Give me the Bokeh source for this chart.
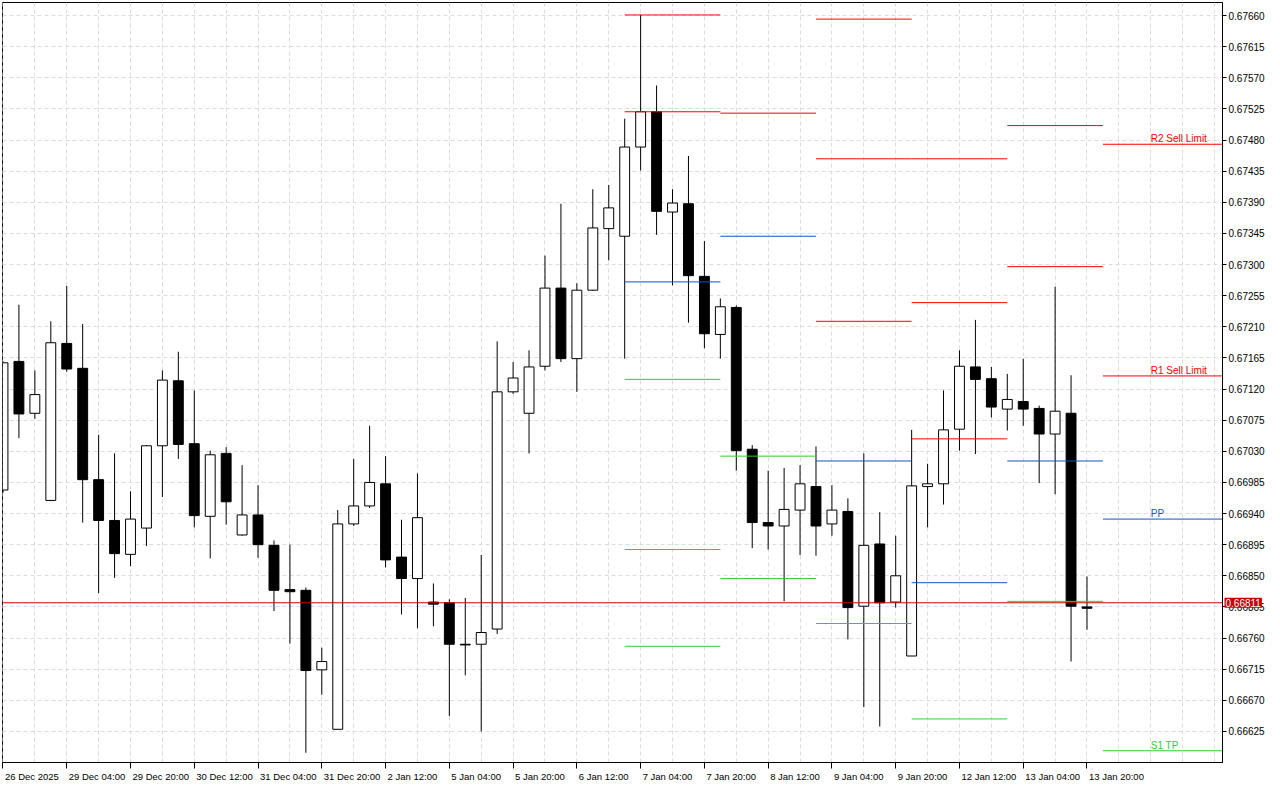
from bokeh.plotting import figure
from bokeh.models import (Range1d, FixedTicker, PrintfTickFormatter, Span, Label,
                          LinearAxis, CustomJSTickFormatter)
from bokeh.embed import file_html
from bokeh.resources import INLINE

# ---------------- data (H4 candles, index 0 = 26 Dec 2025 ... index 68 = 13 Jan 20:00)
opens = [0.66974, 0.67160, 0.67085, 0.66959, 0.67186, 0.67150, 0.66989, 0.66930, 0.66881, 0.66919,
         0.67038, 0.67132, 0.67041, 0.66936, 0.67027, 0.66909, 0.66938, 0.66894, 0.66830, 0.66829,
         0.66714, 0.66628, 0.66925, 0.66951, 0.66983, 0.66877, 0.66846, 0.66812, 0.66811, 0.66751,
         0.66751, 0.66773, 0.67116, 0.67085, 0.67153, 0.67266, 0.67164, 0.67263, 0.67352, 0.67341,
         0.67470, 0.67521, 0.67376, 0.67388, 0.67283, 0.67199, 0.67238, 0.67033, 0.66927, 0.66922,
         0.66945, 0.66979, 0.66925, 0.66943, 0.66806, 0.66896, 0.66812, 0.66734, 0.66979, 0.66983,
         0.67062, 0.67152, 0.67135, 0.67091, 0.67102, 0.67092, 0.67055, 0.67085, 0.66805]
highs = [0.67160, 0.67242, 0.67147, 0.67218, 0.67269, 0.67214, 0.67054, 0.67027, 0.66972, 0.67039,
         0.67147, 0.67174, 0.67118, 0.67031, 0.67036, 0.67010, 0.66981, 0.66901, 0.66895, 0.66833,
         0.66746, 0.66945, 0.67019, 0.67067, 0.67023, 0.66931, 0.66998, 0.66839, 0.66816, 0.66818,
         0.66880, 0.67189, 0.67159, 0.67176, 0.67313, 0.67388, 0.67273, 0.67409, 0.67415, 0.67511,
         0.67661, 0.67559, 0.67409, 0.67457, 0.67334, 0.67251, 0.67241, 0.67039, 0.67002, 0.67006,
         0.67010, 0.67037, 0.66981, 0.66962, 0.67027, 0.66942, 0.66908, 0.67061, 0.67012, 0.67118,
         0.67176, 0.67220, 0.67152, 0.67142, 0.67164, 0.67096, 0.67268, 0.67140, 0.66849]
lows = [0.66970, 0.67049, 0.67077, 0.66958, 0.67145, 0.66927, 0.66825, 0.66847, 0.66864, 0.66893,
        0.66964, 0.67019, 0.66920, 0.66875, 0.66924, 0.66908, 0.66876, 0.66799, 0.66752, 0.66594,
        0.66678, 0.66628, 0.66922, 0.66948, 0.66862, 0.66794, 0.66774, 0.66777, 0.66647, 0.66706,
        0.66625, 0.66766, 0.67113, 0.67027, 0.67147, 0.67159, 0.67116, 0.67262, 0.67306, 0.67164,
        0.67436, 0.67343, 0.67270, 0.67216, 0.67179, 0.67164, 0.67002, 0.66890, 0.66888, 0.66813,
        0.66880, 0.66879, 0.66908, 0.66758, 0.66660, 0.66632, 0.66804, 0.66734, 0.66920, 0.66953,
        0.67031, 0.67026, 0.67079, 0.67060, 0.67067, 0.66984, 0.66968, 0.66726, 0.66772]
closes = [0.67158, 0.67084, 0.67112, 0.67187, 0.67149, 0.66989, 0.66930, 0.66882, 0.66932, 0.67038,
          0.67133, 0.67040, 0.66937, 0.67025, 0.66957, 0.66938, 0.66895, 0.66829, 0.66827, 0.66713,
          0.66726, 0.66925, 0.66951, 0.66985, 0.66873, 0.66846, 0.66934, 0.66809, 0.66751, 0.66750,
          0.66768, 0.67116, 0.67136, 0.67152, 0.67266, 0.67164, 0.67263, 0.67353, 0.67382, 0.67470,
          0.67521, 0.67377, 0.67389, 0.67284, 0.67200, 0.67239, 0.67031, 0.66927, 0.66922, 0.66946,
          0.66983, 0.66922, 0.66945, 0.66804, 0.66894, 0.66811, 0.66850, 0.66980, 0.66983, 0.67061,
          0.67153, 0.67134, 0.67094, 0.67105, 0.67091, 0.67055, 0.67088, 0.66806, 0.66803]

time_tick_index = [0, 4, 8, 12, 16, 20, 24, 28, 32, 36, 40, 44, 48, 52, 56, 60, 64, 68]
time_tick_labels = ["26 Dec 2025", "29 Dec 04:00", "29 Dec 20:00", "30 Dec 12:00", "31 Dec 04:00",
                    "31 Dec 20:00", "2 Jan 12:00", "5 Jan 04:00", "5 Jan 20:00", "6 Jan 12:00",
                    "7 Jan 04:00", "7 Jan 20:00", "8 Jan 12:00", "9 Jan 04:00", "9 Jan 20:00",
                    "12 Jan 12:00", "13 Jan 04:00", "13 Jan 20:00"]

price_ticks = [0.66625, 0.66670, 0.66715, 0.66760, 0.66805, 0.66850, 0.66895, 0.66940, 0.66985,
               0.67030, 0.67075, 0.67120, 0.67165, 0.67210, 0.67255, 0.67300, 0.67345, 0.67390,
               0.67435, 0.67480, 0.67525, 0.67570, 0.67615, 0.67660]

# daily pivot levels (start / end candle index of each day)
pivot_days = ["7 Jan", "8 Jan", "9 Jan", "12 Jan", "13 Jan", "14 Jan"]
pivot_start = [39, 45, 51, 57, 63, 69]
pivot_end = [45, 51, 57, 63, 69, 78]
pivot_R = [[0.67661, 0.67521], [0.67519], [0.67655, 0.67453, 0.67218],
           [0.67453, 0.67245, 0.67048], [0.67501, 0.67297], [0.67474, 0.67139]]
pivot_PP = [0.67275, 0.67341, 0.67016, 0.66840, 0.67016, 0.66932]
pivot_S = [[0.67134, 0.66888, 0.66748], [0.67023, 0.66846], [0.66781], [0.66643],
           [0.66813], [0.66597]]

level_texts = ["R2 Sell Limit", "R1 Sell Limit", "PP", "S1 TP"]
level_prices = [0.67474, 0.67139, 0.66932, 0.66597]
level_kinds = ["R", "R", "PP", "S"]
level_text_index = 72

current_price = 0.66811

# ---------------- styling
RED = "#ff0000"
BLUE = "#1450d2"
GREEN = "#32cd32"
kind_color = {"R": RED, "PP": BLUE, "S": GREEN}
FONT = "Liberation Sans"
DATE_FS = 9.5

x_start, x_end = -0.03, 76.5
FRAME_W, FRAME_H = 1220, 760
p = figure(frame_width=FRAME_W, frame_height=FRAME_H,
           x_range=Range1d(x_start, x_end), y_range=Range1d(0.66580, 0.67679),
           y_axis_location="right", toolbar_location=None, output_backend="svg",
           min_border_left=2, min_border_top=2, min_border_right=0, min_border_bottom=0,
           background_fill_color="white", border_fill_color="white")
p.outline_line_color = "black"
p.outline_line_width = 1

# grid
p.xgrid.ticker = FixedTicker(ticks=list(range(0, 78, 2)))
for g in (p.xgrid, p.ygrid):
    g.grid_line_color = "#dcdcdc"
    g.grid_line_dash = "4 3"
    g.grid_line_width = 1

# right price axis
ya = p.yaxis[0]
ya.ticker = FixedTicker(ticks=price_ticks)
ya.formatter = PrintfTickFormatter(format="%.5f")
ya.major_tick_out = 4
ya.major_tick_in = 0
ya.minor_tick_out = 0
ya.minor_tick_in = 0
ya.major_label_standoff = 2
ya.major_label_text_font = FONT
ya.major_label_text_font_size = "10px"
ya.major_label_text_color = "black"
ya.axis_line_color = "black"
ya.major_tick_line_color = "black"

# bottom time axis: tick marks only
xa = p.xaxis[0]
xa.ticker = FixedTicker(ticks=time_tick_index)
xa.major_label_overrides = {i: "" for i in time_tick_index}
xa.major_label_text_font_size = "1px"
xa.major_tick_out = 6
xa.major_tick_in = 0
xa.minor_tick_out = 0
xa.minor_tick_in = 0
xa.axis_line_color = "black"
xa.major_tick_line_color = "black"
xa.major_label_standoff = 0

# second bottom axis carrying the date labels, each label placed so that it
# starts just right of its tick (MetaTrader style, left aligned)
CHAR_W = {" ": 0.278, ":": 0.278, "D": 0.722, "e": 0.556, "c": 0.5, "J": 0.5,
          "a": 0.556, "n": 0.556}
ppx = FRAME_W / (x_end - x_start)


def text_width(s, size):
    return sum(CHAR_W.get(ch, 0.556) for ch in s) * size


label_centers = [round(t + (text_width(s, DATE_FS) / 2 + 2) / ppx, 4)
                 for t, s in zip(time_tick_index, time_tick_labels)]
xb = LinearAxis(ticker=FixedTicker(ticks=label_centers),
                formatter=CustomJSTickFormatter(args=dict(labels=time_tick_labels),
                                                code="return labels[index];"))
xb.axis_line_color = None
xb.major_tick_line_color = None
xb.minor_tick_line_color = None
xb.major_tick_out = 0
xb.major_tick_in = 0
xb.minor_tick_out = 0
xb.minor_tick_in = 0
xb.major_label_standoff = 2
xb.major_label_text_font = FONT
xb.major_label_text_font_size = "%spx" % DATE_FS
xb.major_label_text_color = "black"
p.add_layout(xb, "below")

# candles
idx = list(range(len(opens)))
p.segment(x0=idx, y0=highs, x1=idx, y1=lows, line_color="black", line_width=1)
bull = [i for i in idx if closes[i] >= opens[i]]
bear = [i for i in idx if closes[i] < opens[i]]
p.vbar(x=bull, width=0.62, top=[closes[i] for i in bull], bottom=[opens[i] for i in bull],
       fill_color="white", line_color="black", line_width=1)
p.vbar(x=bear, width=0.62, top=[opens[i] for i in bear], bottom=[closes[i] for i in bear],
       fill_color="black", line_color="black", line_width=1)

# pivot lines
sx0, sx1, sy, sc = [], [], [], []
for d in range(len(pivot_days)):
    for v in pivot_R[d]:
        sx0.append(pivot_start[d]); sx1.append(pivot_end[d]); sy.append(v); sc.append(RED)
    sx0.append(pivot_start[d]); sx1.append(pivot_end[d]); sy.append(pivot_PP[d]); sc.append(BLUE)
    for v in pivot_S[d]:
        sx0.append(pivot_start[d]); sx1.append(pivot_end[d]); sy.append(v); sc.append(GREEN)
p.segment(x0=sx0, y0=sy, x1=sx1, y1=sy, line_color=sc, line_width=1)

for t, v, k in zip(level_texts, level_prices, level_kinds):
    p.add_layout(Label(x=level_text_index, y=v, text=t, text_color=kind_color[k],
                       text_align="left", text_baseline="bottom",
                       text_font=FONT, text_font_size="10px"))

# current price line and box on the price scale
p.add_layout(Span(location=current_price, dimension="width", line_color="#d00000", line_width=1))
price_box = Label(x=x_end, y=current_price, x_offset=2, text="%.5f" % current_price,
                  text_align="left", text_baseline="middle", text_color="white",
                  text_font=FONT, text_font_size="10px", level="overlay",
                  background_fill_color="#c80000", padding=1)
p.add_layout(price_box, "right")

open("out.html", "w").write(file_html(p, INLINE))
